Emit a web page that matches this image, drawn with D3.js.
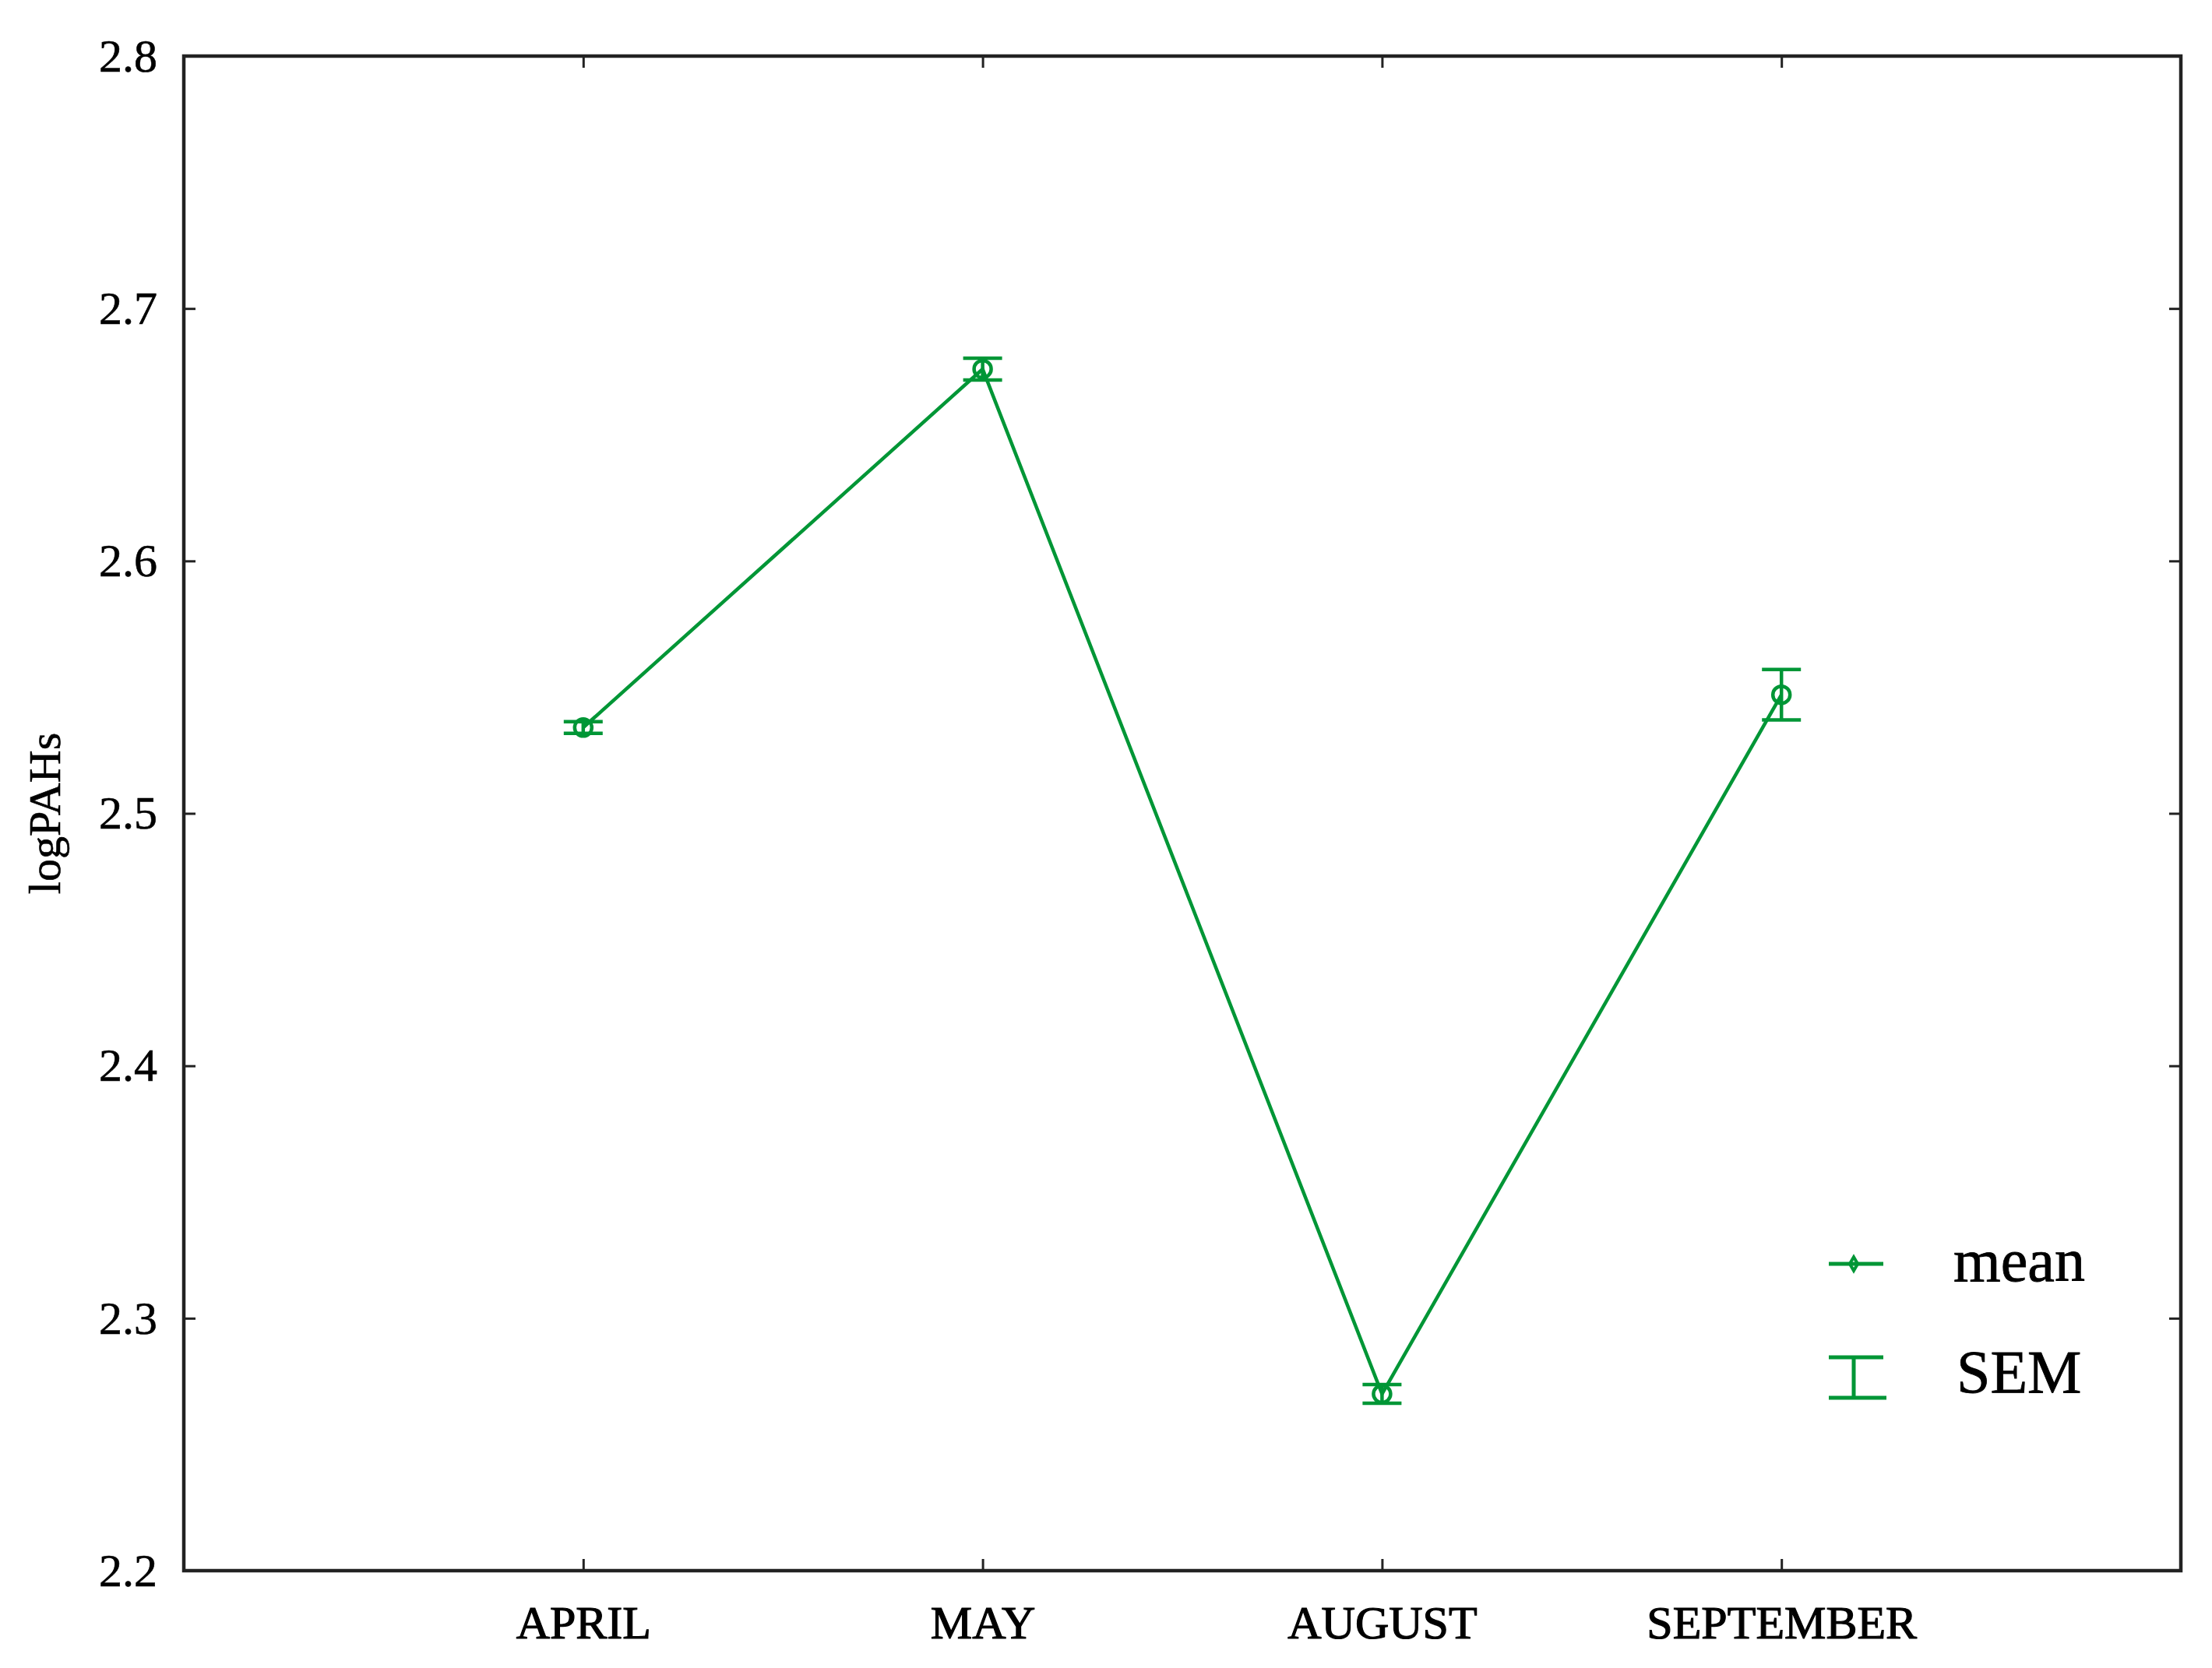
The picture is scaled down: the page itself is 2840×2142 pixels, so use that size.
<!DOCTYPE html>
<html>
<head>
<meta charset="utf-8">
<script src="https://cdn.jsdelivr.net/npm/d3@7"></script>
<style>
  body { margin: 0; background: #fff; }
  svg text { font-family: "Liberation Serif", "Times New Roman", serif; fill: #000; }
</style>
</head>
<body>
<div id="chart"></div>
<script>
(() => {
    // data
    const months = ["APRIL", "MAY", "AUGUST", "SEPTEMBER"];
    const means = [2.534, 2.676, 2.270, 2.547];
    const sems = [0.0023, 0.0043, 0.0037, 0.010];
    const yTicks = [2.2, 2.3, 2.4, 2.5, 2.6, 2.7, 2.8];
    const legendLabels = ["mean", "SEM"];

    const width = 2840;
    const height = 2142;
    const margin = { top: 72, right: 40, bottom: 125, left: 236 };
    const green = "#009636";

    const svg = d3.select("#chart").append("svg")
        .attr("width", width)
        .attr("height", height);

    const x = d3.scalePoint()
        .domain(months)
        .range([margin.left, width - margin.right])
        .padding(1);

    const y = d3.scaleLinear()
        .domain([2.2, 2.8])
        .range([height - margin.bottom, margin.top]);

    /********************** axes, ticks pointing inward *************************/
    const left = svg.append("g")
        .attr("transform", `translate(${margin.left},0)`)
        .call(d3.axisLeft(y).tickValues(yTicks).tickSize(-15).tickPadding(34).tickFormat(d3.format(".1f")));

    const right = svg.append("g")
        .attr("transform", `translate(${width - margin.right},0)`)
        .call(d3.axisRight(y).tickValues(yTicks).tickSize(-15).tickFormat(""));

    const bottom = svg.append("g")
        .attr("transform", `translate(0,${height - margin.bottom})`)
        .call(d3.axisBottom(x).tickSize(-15).tickPadding(44));

    const top = svg.append("g")
        .attr("transform", `translate(0,${margin.top})`)
        .call(d3.axisTop(x).tickSize(-15).tickFormat(""));

    [left, right, bottom, top].forEach(g => {
        g.select(".domain").remove();
        g.selectAll(".tick line").attr("stroke", "#222").attr("stroke-width", 3);
    });

    left.selectAll("text")
        .attr("font-size", 60)
        .attr("stroke", "#000").attr("stroke-width", 0.6)
        .style("font-family", "Liberation Serif, serif");

    bottom.selectAll("text")
        .attr("font-size", 60)
        .attr("stroke", "#000").attr("stroke-width", 1.2)
        .style("font-family", "Liberation Serif, serif");

    // frame
    svg.append("rect")
        .attr("x", margin.left)
        .attr("y", margin.top)
        .attr("width", width - margin.left - margin.right)
        .attr("height", height - margin.top - margin.bottom)
        .attr("fill", "none")
        .attr("stroke", "#222")
        .attr("stroke-width", 4.5);

    // y axis title
    svg.append("text")
        .attr("transform", `translate(77,${(margin.top + height - margin.bottom) / 2}) rotate(-90)`)
        .attr("text-anchor", "middle")
        .attr("font-size", 58)
        .attr("stroke", "#000").attr("stroke-width", 0.6)
        .text("logPAHs");

    /********************** mean line + SEM bars *************************/
    const pts = months.map((m, i) => ({ m: m, mean: means[i], sem: sems[i] }));

    const line = d3.line()
        .x(d => x(d.m))
        .y(d => y(d.mean));

    svg.append("path")
        .datum(pts)
        .attr("d", line)
        .attr("fill", "none")
        .attr("stroke", green)
        .attr("stroke-width", 4.5);

    const bars = svg.selectAll(".sem")
        .data(pts)
        .join("g")
        .attr("class", "sem")
        .attr("stroke", green)
        .attr("stroke-width", 4.5)
        .attr("fill", "none");

    bars.append("line")
        .attr("x1", d => x(d.m)).attr("x2", d => x(d.m))
        .attr("y1", d => y(d.mean - d.sem)).attr("y2", d => y(d.mean + d.sem));
    bars.append("line")
        .attr("x1", d => x(d.m) - 25).attr("x2", d => x(d.m) + 25)
        .attr("y1", d => y(d.mean + d.sem)).attr("y2", d => y(d.mean + d.sem));
    bars.append("line")
        .attr("x1", d => x(d.m) - 25).attr("x2", d => x(d.m) + 25)
        .attr("y1", d => y(d.mean - d.sem)).attr("y2", d => y(d.mean - d.sem));

    svg.selectAll(".pt")
        .data(pts)
        .join("circle")
        .attr("class", "pt")
        .attr("cx", d => x(d.m))
        .attr("cy", d => y(d.mean))
        .attr("r", 11)
        .attr("fill", "none")
        .attr("stroke", green)
        .attr("stroke-width", 4.5);

    /********************** legend *************************/
    const lg = svg.append("g");
    // mean symbol
    lg.append("line")
        .attr("x1", 2348).attr("x2", 2418).attr("y1", 1623).attr("y2", 1623)
        .attr("stroke", green).attr("stroke-width", 5);
    lg.append("path")
        .attr("d", d3.symbol(d3.symbolDiamond, 90)())
        .attr("transform", "translate(2380,1623)")
        .attr("fill", "none").attr("stroke", green).attr("stroke-width", 4);
    // SEM symbol
    lg.append("line")
        .attr("x1", 2348).attr("x2", 2418).attr("y1", 1743).attr("y2", 1743)
        .attr("stroke", green).attr("stroke-width", 5);
    lg.append("line")
        .attr("x1", 2348).attr("x2", 2422).attr("y1", 1795).attr("y2", 1795)
        .attr("stroke", green).attr("stroke-width", 5);
    lg.append("line")
        .attr("x1", 2380).attr("x2", 2380).attr("y1", 1743).attr("y2", 1795)
        .attr("stroke", green).attr("stroke-width", 5);

    lg.selectAll(".lgtext")
        .data(legendLabels)
        .join("text")
        .attr("class", "lgtext")
        .attr("x", (d, i) => i === 0 ? 2508 : 2512)
        .attr("y", (d, i) => i === 0 ? 1645 : 1788)
        .attr("font-size", 78)
        .attr("stroke", "#000").attr("stroke-width", 0.8)
        .text(d => d);
})()
</script>
</body>
</html>
